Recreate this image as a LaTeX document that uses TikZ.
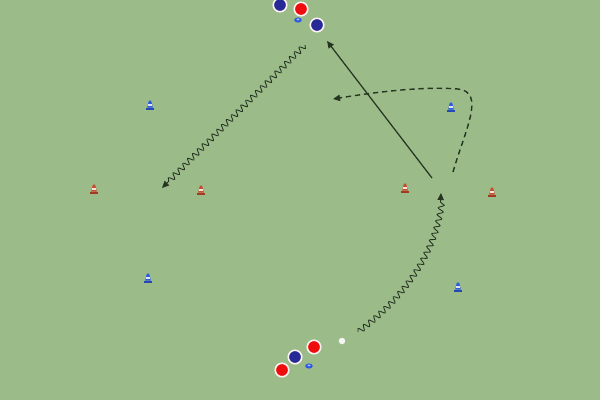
\documentclass[tikz,border=0pt]{standalone}
\usetikzlibrary{arrows.meta,decorations.pathmorphing}
\definecolor{pitch}{RGB}{155,187,137}
\definecolor{teamblue}{RGB}{38,42,150}
\definecolor{teamred}{RGB}{238,12,12}
\definecolor{coneblue}{RGB}{45,90,225}
\definecolor{conered}{RGB}{200,75,45}
\definecolor{runline}{RGB}{38,52,34}
\tikzset{
  player/.style={circle, draw=white!80!pink, line width=0.9pt, minimum size=0.27cm, inner sep=0pt},
  blueplayer/.style={player, fill=teamblue},
  redplayer/.style={player, fill=teamred},
  ball/.style={circle, fill=white!92!gray, minimum size=0.13cm, inner sep=0pt},
  tip/.style={-{Triangle[length=4pt,width=3.6pt]}},
  dribble/.style={tip, runline, line width=0.5pt, decorate,
    decoration={snake, amplitude=1.6pt, segment length=3.9pt, post length=4pt}},
  pass/.style={tip, runline, line width=0.7pt},
  run/.style={tip, runline, line width=0.8pt, dash pattern=on 3pt off 2.2pt},
  cone/.pic={
    \fill[#1!80!black] (-4,-0.5) rectangle (4,1.5);
    \fill[#1] (-2.8,-0.5) -- (-1.1,-7.5) -- (1.1,-7.5) -- (2.8,-0.5) -- cycle;
    \fill[white!85!#1] (-2.2,-2.4) rectangle (2.2,-3.8);
  },
  disc/.pic={
    \fill[coneblue] (0,0) ellipse (3.8 and 2.6);
    \fill[white!60!coneblue] (0,-0.6) ellipse (1.6 and 1.1);
  }
}
\begin{document}
\begin{tikzpicture}[x=0.02cm,y=-0.02cm]
  \fill[pitch] (0,0) rectangle (600,400);
  \useasboundingbox (0,0) rectangle (600,400);
  % cones
  \pic at (150,108) {cone=coneblue};
  \pic at (451,110) {cone=coneblue};
  \pic at (148,281) {cone=coneblue};
  \pic at (458,290) {cone=coneblue};
  \pic at (94,192) {cone=conered};
  \pic at (201,193) {cone=conered};
  \pic at (405,191) {cone=conered};
  \pic at (492,195) {cone=conered};
  \pic at (298,20) {disc};
  \pic at (309,366) {disc};
  % top group
  \node[blueplayer] (b1) at (280,5) {};
  \node[redplayer] (r1) at (301,9) {};
  \node[blueplayer] (b2) at (317,25) {};
  % bottom group
  \node[redplayer] (r2) at (314,347) {};
  \node[blueplayer] (b3) at (295,357) {};
  \node[redplayer] (r3) at (282,370) {};
  \node[ball] (ball) at (342,341) {};
  % runs
  \coordinate (d1s) at (305,45);
  \coordinate (d1e) at (162,188);
  \coordinate (d2s) at (358,332);
  \coordinate (d2e) at (441,193);
  \coordinate (ps) at (432,178);
  \coordinate (pe) at (327,41);
  \coordinate (rs) at (453,172);
  \coordinate (rc) at (458,89);
  \coordinate (re) at (333,99);
  \draw[dribble] (d1s) -- (d1e);
  \draw[dribble] (d2s) .. controls (412,292) and (440,240) .. (d2e);
  \draw[pass] (ps) -- (pe);
  \draw[run] (rs) .. controls (465,130) and (486,92) .. (rc)
    .. controls (420,86) and (370,93) .. (re);
\end{tikzpicture}
\end{document}
